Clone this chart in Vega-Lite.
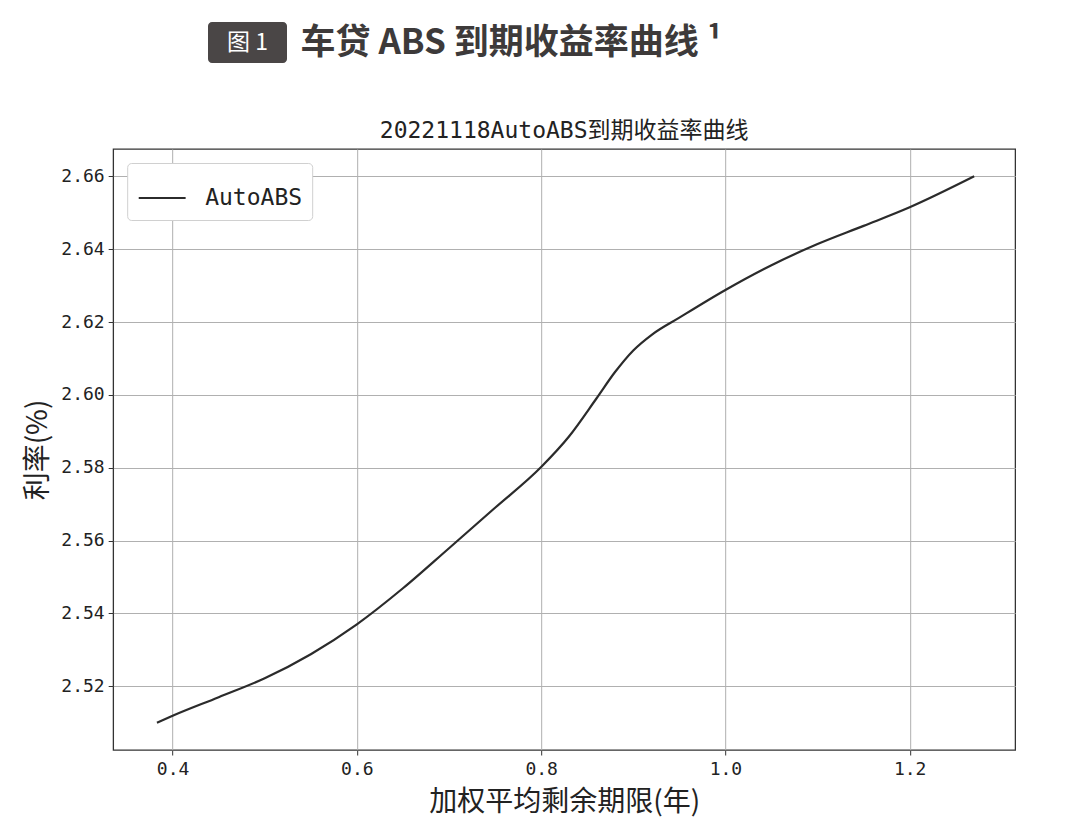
{
  "$schema": "https://vega.github.io/schema/vega-lite/v6.json",
  "padding": {"left": 24, "top": 22, "right": 0, "bottom": 0},
  "background": "white",
  "center": true,
  "spacing": 56,
  "resolve": {"legend": {"color": "independent"}},
  "config": {
    "view": {"stroke": null},
    "font": "Noto Sans CJK SC"
  },
  "vconcat": [
    {
      "spacing": 13,
      "hconcat": [
        {
          "width": 79,
          "height": 41,
          "data": {"values": [{"label": "图 1"}]},
          "layer": [
            {"mark": {"type": "rect", "color": "#4a4646", "cornerRadius": 4}, "encoding": {}},
            {"mark": {"type": "text", "color": "white", "fontSize": 23, "font": "Noto Sans CJK SC"}, "encoding": {"text": {"field": "label"}}}
          ]
        },
        {
          "width": 620,
          "height": 41,
          "data": {"values": [{"heading": "车贷 ABS 到期收益率曲线 ¹"}]},
          "mark": {"type": "text", "fontSize": 35, "fontWeight": "bold", "color": "#3d3a3a", "dx": -100, "font": "Noto Sans CJK SC"},
          "encoding": {"text": {"field": "heading"}}
        }
      ]
    },
    {
      "width": 902,
      "height": 601,
      "view": {"stroke": "#333333", "strokeWidth": 1.3},
      "title": {"text": "20221118AutoABS到期收益率曲线", "fontSize": 23, "font": "DejaVu Sans Mono, Noto Sans CJK SC", "fontWeight": "normal", "color": "#222222", "offset": 6},
      "data": {"values": [
        {"series": "AutoABS", "maturity": 0.383, "yield": 2.5100},
        {"series": "AutoABS", "maturity": 0.40, "yield": 2.5119},
        {"series": "AutoABS", "maturity": 0.45, "yield": 2.5170},
        {"series": "AutoABS", "maturity": 0.50, "yield": 2.5222},
        {"series": "AutoABS", "maturity": 0.55, "yield": 2.5288},
        {"series": "AutoABS", "maturity": 0.60, "yield": 2.5370},
        {"series": "AutoABS", "maturity": 0.65, "yield": 2.5469},
        {"series": "AutoABS", "maturity": 0.70, "yield": 2.5579},
        {"series": "AutoABS", "maturity": 0.75, "yield": 2.5690},
        {"series": "AutoABS", "maturity": 0.80, "yield": 2.5802},
        {"series": "AutoABS", "maturity": 0.83, "yield": 2.5885},
        {"series": "AutoABS", "maturity": 0.86, "yield": 2.5990},
        {"series": "AutoABS", "maturity": 0.88, "yield": 2.6062},
        {"series": "AutoABS", "maturity": 0.90, "yield": 2.6122},
        {"series": "AutoABS", "maturity": 0.92, "yield": 2.6165},
        {"series": "AutoABS", "maturity": 0.95, "yield": 2.6212},
        {"series": "AutoABS", "maturity": 1.00, "yield": 2.6288},
        {"series": "AutoABS", "maturity": 1.05, "yield": 2.6356},
        {"series": "AutoABS", "maturity": 1.10, "yield": 2.6414},
        {"series": "AutoABS", "maturity": 1.15, "yield": 2.6464},
        {"series": "AutoABS", "maturity": 1.20, "yield": 2.6515},
        {"series": "AutoABS", "maturity": 1.27, "yield": 2.6600}
      ]},
      "mark": {"type": "line", "interpolate": "monotone", "strokeWidth": 2.2},
      "encoding": {
        "x": {
          "field": "maturity", "type": "quantitative",
          "scale": {"domain": [0.3355, 1.3145], "nice": false, "zero": false},
          "axis": {
            "values": [0.4, 0.6, 0.8, 1.0, 1.2], "format": ".1f",
            "title": "加权平均剩余期限(年)", "titleFont": "Noto Sans CJK SC", "titleFontSize": 28, "titleFontWeight": "normal", "titleColor": "#222222", "titlePadding": 10,
            "labelFont": "DejaVu Sans Mono", "labelFontSize": 18, "labelColor": "#222222", "labelPadding": 5,
            "domain": false, "tickColor": "#333333", "tickSize": 5,
            "grid": true, "gridColor": "#b0b0b0", "gridWidth": 1
          }
        },
        "y": {
          "field": "yield", "type": "quantitative",
          "scale": {"domain": [2.5025, 2.6675], "nice": false, "zero": false},
          "axis": {
            "values": [2.52, 2.54, 2.56, 2.58, 2.60, 2.62, 2.64, 2.66], "format": ".2f",
            "title": "利率(%)", "titleFont": "Noto Sans CJK SC", "titleFontSize": 28, "titleFontWeight": "normal", "titleColor": "#222222", "titlePadding": 8,
            "labelFont": "DejaVu Sans Mono", "labelFontSize": 18, "labelColor": "#222222", "labelPadding": 4,
            "domain": false, "tickColor": "#333333", "tickSize": 5,
            "grid": true, "gridColor": "#b0b0b0", "gridWidth": 1
          }
        },
        "color": {
          "field": "series", "type": "nominal",
          "scale": {"range": ["#2b2b2b"]},
          "legend": {
            "title": null, "orient": "top-left", "offset": 14,
            "fillColor": "white", "strokeColor": "#d0d0d0", "cornerRadius": 4, "padding": 10,
            "symbolType": "stroke", "symbolStrokeWidth": 2.2, "symbolSize": 2200, "symbolStrokeColor": "#2b2b2b",
            "labelFont": "DejaVu Sans Mono", "labelFontSize": 23, "labelColor": "#222222", "labelOffset": 18
          }
        }
      }
    }
  ]
}
